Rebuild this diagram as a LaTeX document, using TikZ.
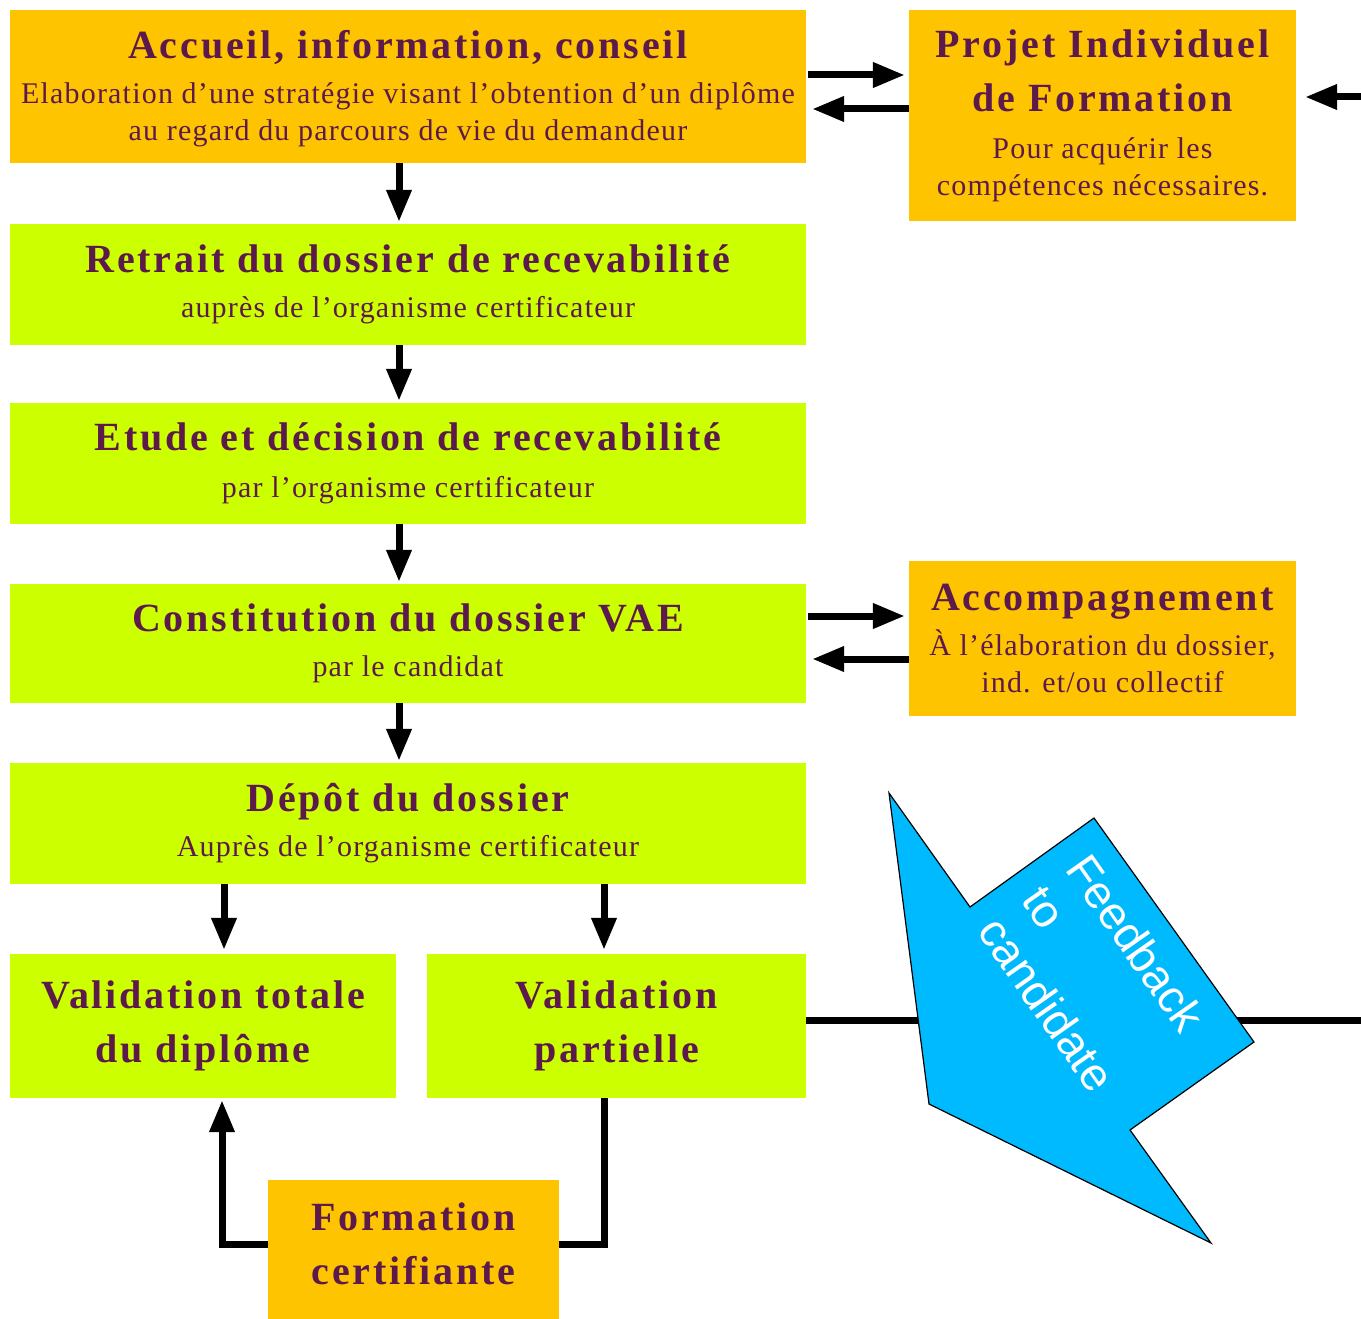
\documentclass[tikz,border=0pt]{standalone}
\usepackage{fontspec}
\setmainfont{Liberation Serif}
\setsansfont{Liberation Sans}
\usetikzlibrary{arrows.meta}

\definecolor{boxorange}{HTML}{FFC400}
\definecolor{boxgreen}{HTML}{CCFF00}
\definecolor{ink}{HTML}{5C1A4C}
\definecolor{feedblue}{HTML}{00BAFF}

\newfontfamily\titlefont[LetterSpace=7]{Liberation Serif}
\newfontfamily\notefont[LetterSpace=4]{Liberation Serif}
\newcommand\boxtitle{\titlefont\bfseries\fontsize{40}{44}\selectfont}
\newcommand\boxnote{\notefont\fontsize{30}{37}\selectfont}

\tikzset{
  box/.style={inner sep=0pt, align=center, text=ink, font=\boxnote},
  orangebox/.style={box, fill=boxorange},
  greenbox/.style={box, fill=boxgreen},
  link/.style={line width=7pt, draw=black},
  arr/.style={link, -{Triangle[length=32pt,width=24pt]}},
}

\begin{document}
\begin{tikzpicture}[x=1pt, y=-1pt]
  \fill[white] (0,0) rectangle (1361,1319);
  \useasboundingbox (0,0) rectangle (1361,1319);

  % main column
  \node[orangebox, minimum width=796, minimum height=153, text depth=2pt] (acc) at (408,86.5)
    {{\boxtitle Accueil, information, conseil}\\[8pt]
     Elaboration d’une stratégie visant l’obtention d’un diplôme\\
     au regard du parcours de vie du demandeur};
  \node[greenbox, minimum width=796, minimum height=121] (ret) at (408,284.5)
    {{\boxtitle Retrait du dossier de recevabilité}\\[8pt]
     auprès de l’organisme certificateur};
  \node[greenbox, minimum width=796, minimum height=121] (etu) at (408,463.5)
    {{\boxtitle Etude et décision de recevabilité}\\[10pt]
     par l’organisme certificateur};
  \node[greenbox, minimum width=796, minimum height=119] (con) at (408,643.5)
    {{\boxtitle Constitution du dossier VAE}\\[8pt]
     par le candidat};
  \node[greenbox, minimum width=796, minimum height=121] (dep) at (408,823.5)
    {{\boxtitle Dépôt du dossier}\\[8pt]
     Auprès de l’organisme certificateur};

  % outcomes
  \node[greenbox, font=\boxtitle, minimum width=386, minimum height=144] (vt) at (203,1026)
    {Validation totale\\[10pt]du diplôme};
  \node[greenbox, font=\boxtitle, minimum width=379, minimum height=144] (vp) at (616.5,1026)
    {Validation\\[10pt]partielle};
  \node[orangebox, font=\boxtitle, minimum width=291, minimum height=139, text depth=12pt] (fc) at (413.5,1249.5)
    {Formation\\[10pt]certifiante};

  % side boxes
  \node[orangebox, minimum width=387, minimum height=211] (pif) at (1102.5,115.5)
    {{\boxtitle Projet Individuel}\\[17pt]
     {\boxtitle de Formation}\\[10pt]
     Pour acquérir les\\
     compétences nécessaires.};
  \node[orangebox, minimum width=387, minimum height=155] (acp) at (1102.5,638.5)
    {{\boxtitle Accompagnement}\\[8pt]
     À l’élaboration du dossier,\\
     ind. et/ou collectif};

  % vertical flow
  \foreach \a/\b in {acc/ret, ret/etu, etu/con, con/dep}
    \draw[arr, shorten >=2pt] ([xshift=-9pt]\a.south) -- ([xshift=-9pt]\b.north);

  \coordinate (d1) at ([xshift=-184pt]dep.south);
  \coordinate (d2) at ([xshift=196pt]dep.south);
  \draw[arr, shorten >=4pt] (d1) -- (d1 |- vt.north);
  \draw[arr, shorten >=4pt] (d2) -- (d2 |- vp.north);

  % exchanges with side boxes
  \coordinate (a1) at ([yshift=11.5pt]acc.east);
  \coordinate (a2) at ([yshift=-22.5pt]pif.west |- acc.east);
  \draw[arr, shorten <=2pt, shorten >=4pt] (a1) -- (a1 -| pif.west);
  \draw[arr, shorten >=6pt] (a2) -- (a2 -| acc.east);
  \coordinate (c1) at ([yshift=27.5pt]con.east);
  \coordinate (c2) at ([yshift=-15.5pt]acp.west |- con.east);
  \draw[arr, shorten <=2pt, shorten >=4pt] (c1) -- (c1 -| acp.west);
  \draw[arr, shorten >=6pt] (c2) -- (c2 -| con.east);

  \coordinate (inR) at (1361,97);
  \draw[arr, shorten >=9pt] (inR) -- (inR -| pif.east);

  % certifying training loop
  \coordinate (p1) at ([xshift=-12.5pt]vp.south);
  \coordinate (f1) at ([yshift=5.5pt]fc.east);
  \coordinate (f2) at ([yshift=5.5pt]fc.west);
  \coordinate (t1) at ([xshift=19pt]vt.south);
  \draw[link] (p1) |- (f1);
  \draw[arr, shorten >=2pt] (f2) -| (t1);

  % partial validation leads off to the right
  \coordinate (outR) at (1361,1020);
  \draw[link] (vp.east |- outR) -- (outR);

  % feedback callout
  \draw[fill=feedblue, draw=black, line width=1.2pt, line join=miter]
    (889,793) -- (970,907) -- (1094,818) -- (1254,1042) -- (1130,1130)
    -- (1211,1243) -- (929,1104) -- cycle;
  \node[rotate=-55, inner sep=0pt, align=left, text=white,
        font=\sffamily\fontsize{46}{54}\selectfont] (fb) at (1092,974)
    {Feedback\\to\\candidate};
\end{tikzpicture}
\end{document}
